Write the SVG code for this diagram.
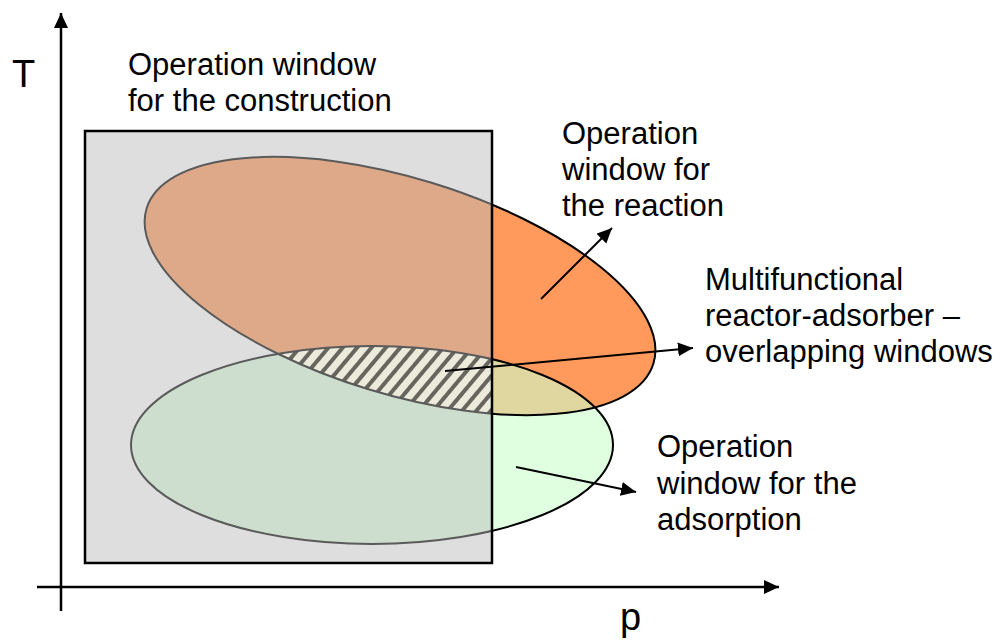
<svg xmlns="http://www.w3.org/2000/svg" width="1003" height="643" viewBox="0 0 1003 643">
<style>
text{font-family:"Liberation Sans",Arial,sans-serif;font-size:31px;fill:#000}
.ax{stroke:#000;stroke-width:2.5;fill:none}
.cn{stroke:#000;stroke-width:2;fill:none}
.ol{fill:none;stroke-width:2}
</style>
<defs>
<marker id="ah" markerUnits="userSpaceOnUse" markerWidth="16" markerHeight="15" refX="15" refY="7" orient="auto">
<path d="M0,0 L15,7 L0,14 z" fill="#000"/>
</marker>
<pattern id="hatch" patternUnits="userSpaceOnUse" width="11" height="11" patternTransform="rotate(40)">
<rect width="11" height="11" fill="#ECEADB"/>
<rect width="4" height="11" fill="#66665E"/>
</pattern>
<clipPath id="cRect"><rect x="85" y="131" width="407" height="432"/></clipPath>
<clipPath id="cOut"><path clip-rule="evenodd" d="M0,0 H1003 V643 H0 Z M85,131 V563 H492 V131 Z"/></clipPath>
<clipPath id="cOr"><ellipse cx="400" cy="286" rx="265" ry="108" transform="rotate(17 400 286)"/></clipPath>
<clipPath id="cGr"><ellipse cx="372" cy="445" rx="241" ry="99"/></clipPath>
</defs>
<g id="reaction-window">
<ellipse cx="400" cy="286" rx="265" ry="108" transform="rotate(17 400 286)" fill="#FF9A5C"/>
</g>
<g id="adsorption-window">
<ellipse cx="372" cy="445" rx="241" ry="99" fill="#CCFFCC" fill-opacity="0.6"/>
</g>
<g id="construction-window">
<rect x="85" y="131" width="407" height="432" fill="#BABABA" fill-opacity="0.48"/>
</g>
<g id="overlap">
<g clip-path="url(#cRect)"><g clip-path="url(#cOr)"><rect x="85" y="131" width="407" height="432" fill="url(#hatch)" clip-path="url(#cGr)"/></g></g>
</g>
<g id="outlines">
<g clip-path="url(#cOut)" stroke="#000">
<ellipse class="ol" cx="400" cy="286" rx="265" ry="108" transform="rotate(17 400 286)"/>
<ellipse class="ol" cx="372" cy="445" rx="241" ry="99"/>
</g>
<g clip-path="url(#cRect)" stroke="#5A5A5A">
<ellipse class="ol" cx="400" cy="286" rx="265" ry="108" transform="rotate(17 400 286)"/>
<ellipse class="ol" cx="372" cy="445" rx="241" ry="99"/>
</g>
<rect x="85" y="131" width="407" height="432" fill="none" stroke="#000" stroke-width="2.5"/>
</g>
<g id="axes">
<line class="ax" x1="61" y1="611" x2="61" y2="13" marker-end="url(#ah)"/>
<line class="ax" x1="37" y1="587" x2="779" y2="587" marker-end="url(#ah)"/>
</g>
<g id="connectors">
<line class="cn" x1="541" y1="299" x2="612" y2="228" marker-end="url(#ah)"/>
<line class="cn" x1="445" y1="371" x2="693" y2="348" marker-end="url(#ah)"/>
<line class="cn" x1="516" y1="467" x2="636" y2="492" marker-end="url(#ah)"/>
</g>
<g id="labels">
<text x="12" y="87" style="font-size:38px">T</text>
<text x="620" y="630" style="font-size:38px">p</text>
<text x="128" y="75">Operation window</text>
<text x="128" y="111">for the construction</text>
<text x="562" y="144">Operation</text>
<text x="562" y="180">window for</text>
<text x="562" y="216">the reaction</text>
<text x="705" y="290">Multifunctional</text>
<text x="705" y="326">reactor-adsorber –</text>
<text x="705" y="362">overlapping windows</text>
<text x="657" y="457">Operation</text>
<text x="657" y="494">window for the</text>
<text x="657" y="530">adsorption</text>
</g>
</svg>
